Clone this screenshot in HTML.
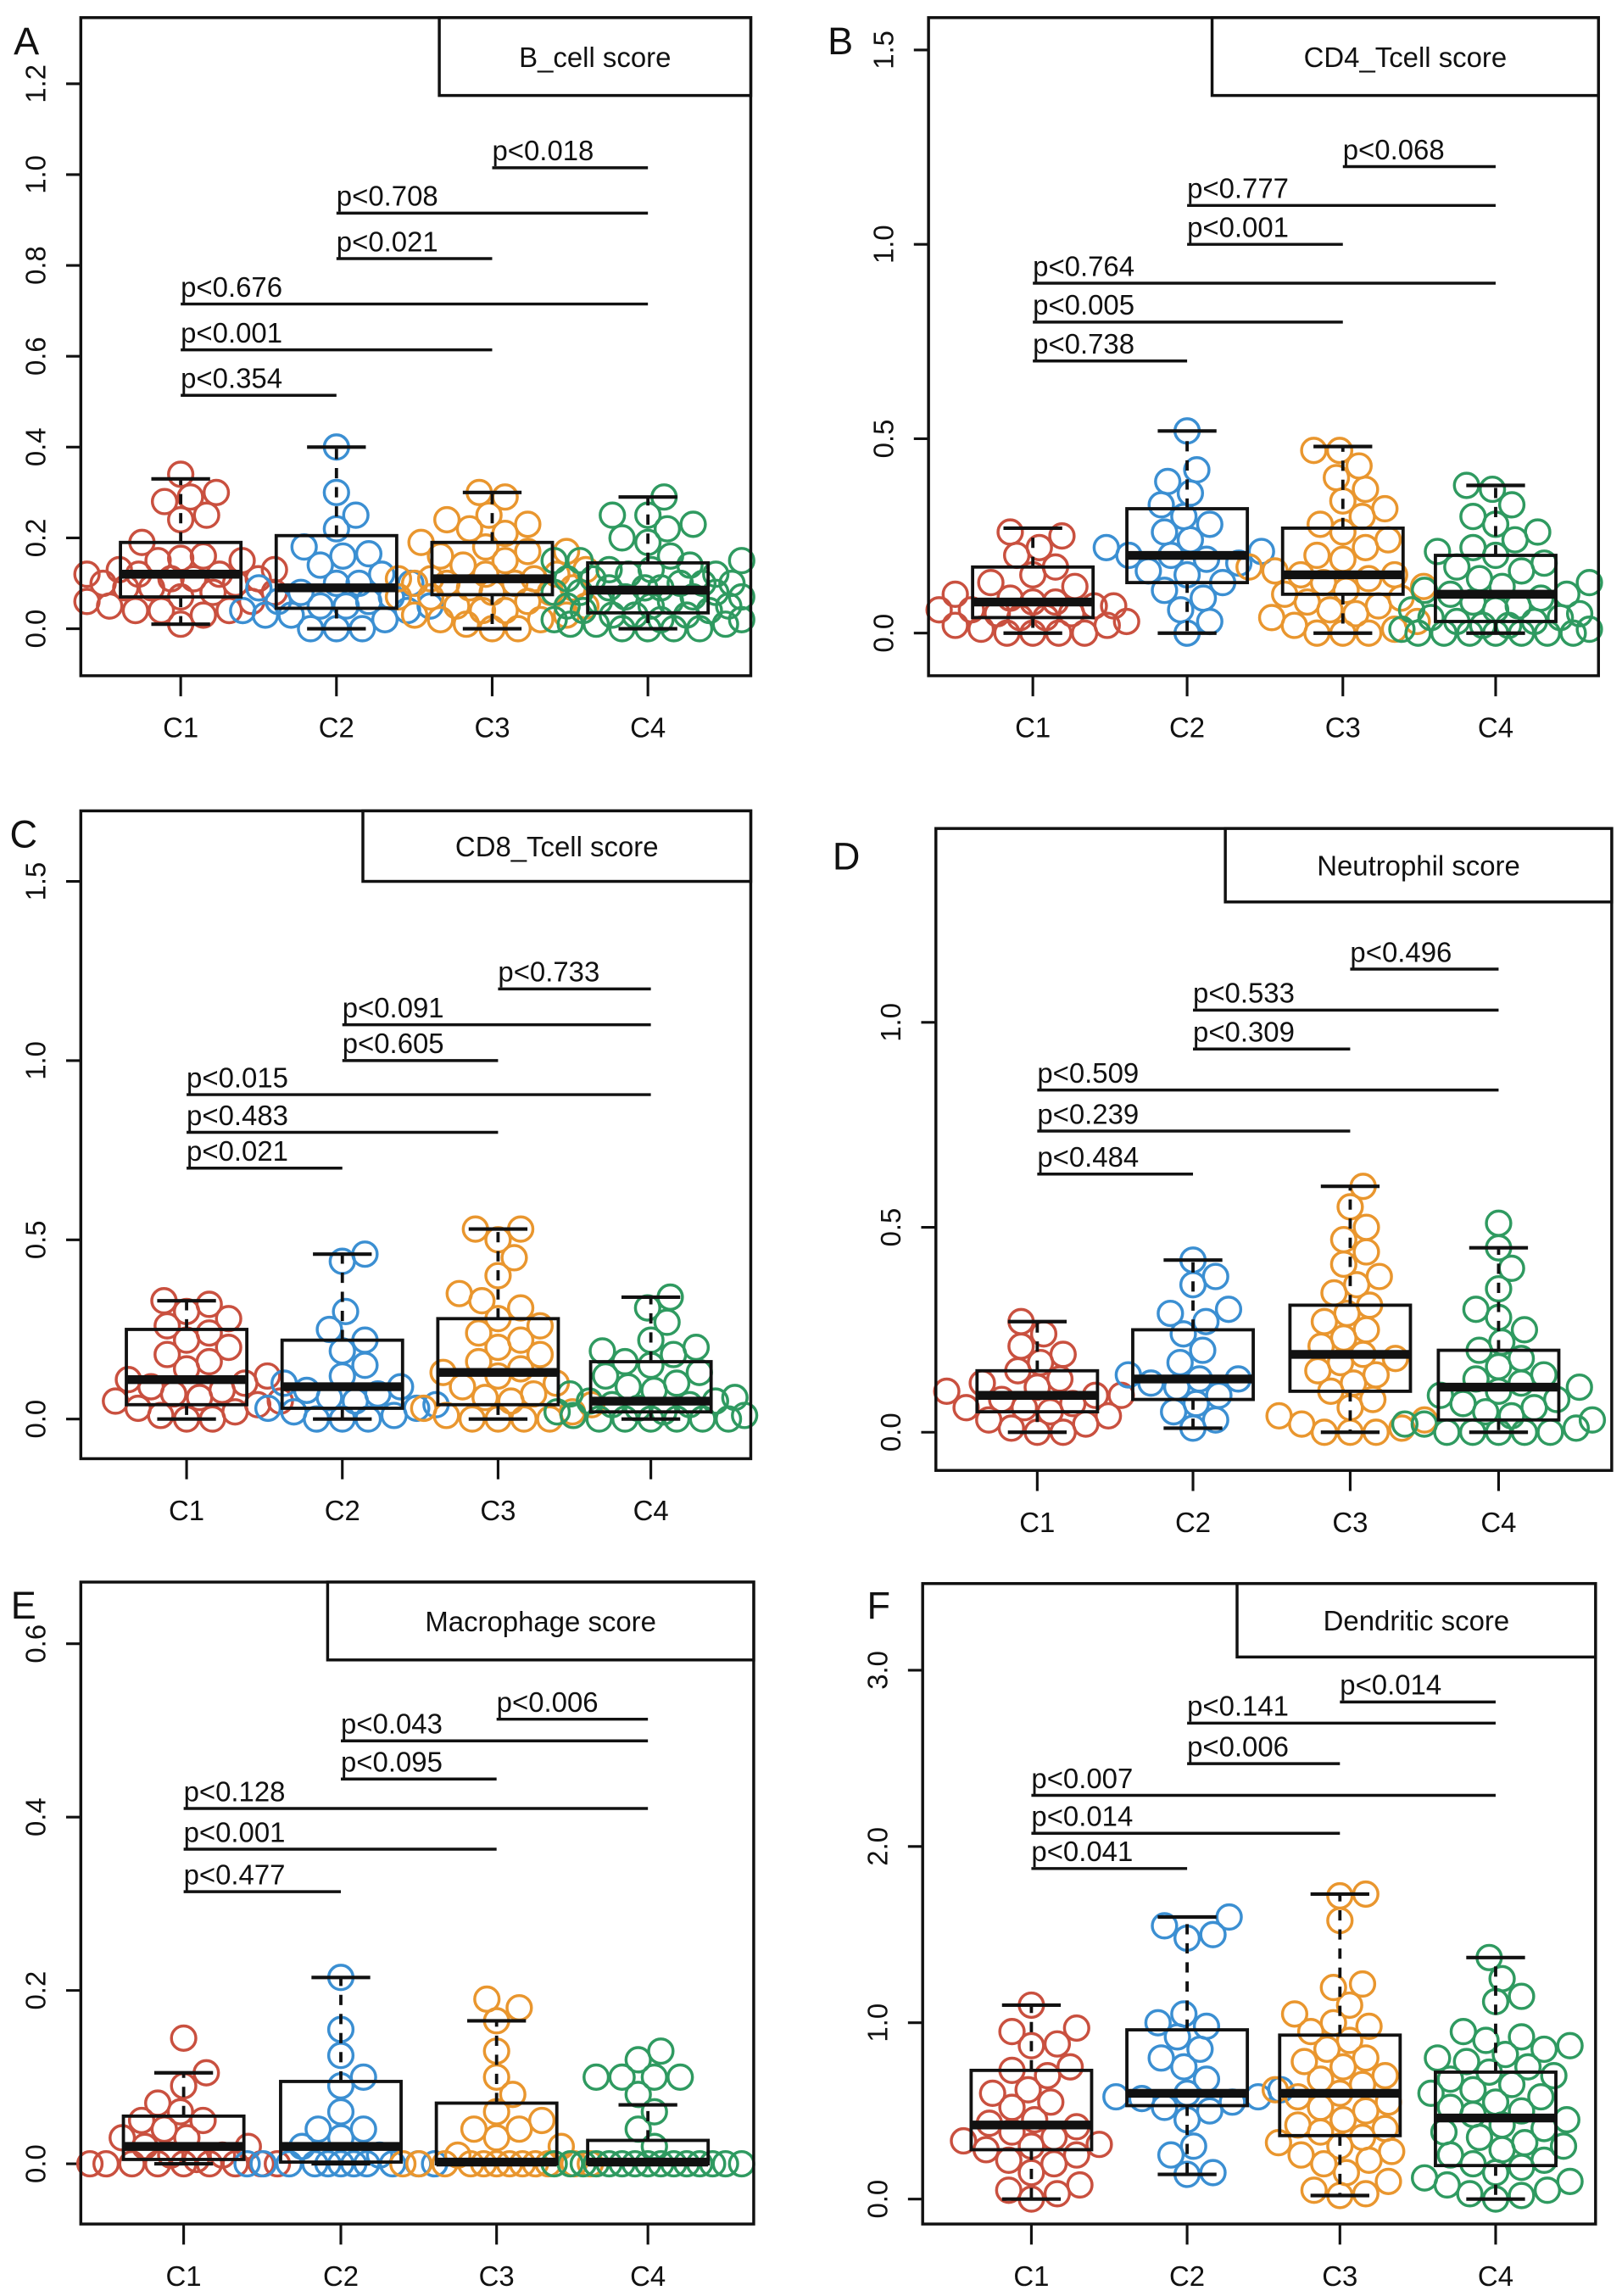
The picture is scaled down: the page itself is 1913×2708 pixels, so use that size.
<!DOCTYPE html>
<html><head><meta charset="utf-8"><style>
html,body{margin:0;padding:0;background:#fff}
svg{display:block}
text{font-family:"Liberation Sans",sans-serif;fill:#111}
</style></head><body>
<svg id="fig" width="1913" height="2708" viewBox="0 0 1104 1563" preserveAspectRatio="none" xmlns="http://www.w3.org/2000/svg"></svg>
<script>
const categories=["C1","C2","C3","C4"];
const colors=["#c9503f","#3b8fd2","#e9962e","#2f9a60"];
const pairs=[[0,1],[0,2],[0,3],[1,2],[1,3],[2,3]];

const aTicks=[0,0.2,0.4,0.6,0.8,1.0,1.2];
const aTickLabels=["0.0","0.2","0.4","0.6","0.8","1.0","1.2"];
const aBoxes=[[0.07,0.12,0.19,0.01,0.33],[0.045,0.09,0.205,0,0.40],[0.075,0.11,0.19,0,0.30],[0.035,0.085,0.145,0,0.29]];
const aBrackets=[0.514,0.614,0.715,0.815,0.915,1.015];
const aPLabels=["p<0.354","p<0.001","p<0.676","p<0.021","p<0.708","p<0.018"];
const aPoints=[
[0.34,0.30,0.29,0.28,0.25,0.24,0.19,0.16,0.155,0.15,0.15,0.13,0.13,0.12,0.12,0.12,0.11,0.11,0.11,0.10,0.10,0.09,0.09,0.08,0.08,0.07,0.06,0.06,0.05,0.04,0.04,0.04,0.03,0.01],
[0.40,0.30,0.25,0.22,0.18,0.165,0.16,0.14,0.12,0.10,0.10,0.10,0.09,0.08,0.07,0.06,0.06,0.05,0.05,0.05,0.04,0.04,0.03,0.03,0.02,0,0,0],
[0.30,0.29,0.25,0.24,0.23,0.22,0.21,0.19,0.18,0.17,0.17,0.16,0.15,0.14,0.13,0.12,0.12,0.11,0.11,0.11,0.10,0.10,0.10,0.09,0.09,0.08,0.08,0.07,0.07,0.06,0.05,0.05,0.04,0.04,0.03,0.03,0.02,0.02,0.01,0.00,0.00],
[0.29,0.25,0.25,0.23,0.22,0.20,0.19,0.16,0.15,0.15,0.15,0.14,0.13,0.13,0.12,0.12,0.11,0.11,0.10,0.10,0.10,0.09,0.09,0.09,0.08,0.08,0.08,0.07,0.07,0.07,0.06,0.06,0.05,0.05,0.05,0.04,0.04,0.03,0.03,0.03,0.02,0.02,0.02,0.01,0.01,0.01,0,0,0,0]];

const bTicks=[0,0.5,1.0,1.5];
const bTickLabels=["0.0","0.5","1.0","1.5"];
const bBoxes=[[0.04,0.08,0.17,0,0.27],[0.13,0.20,0.32,0,0.52],[0.10,0.15,0.27,0,0.48],[0.03,0.10,0.20,0,0.38]];
const bBrackets=[0.70,0.80,0.90,1.0,1.10,1.20];
const bPLabels=["p<0.738","p<0.005","p<0.764","p<0.001","p<0.777","p<0.068"];
const bPoints=[
[0.26,0.25,0.22,0.20,0.17,0.15,0.13,0.12,0.10,0.09,0.08,0.08,0.07,0.07,0.06,0.06,0.05,0.05,0.04,0.04,0.03,0.02,0.02,0.01,0,0,0,0],
[0.52,0.42,0.39,0.36,0.33,0.30,0.28,0.26,0.24,0.22,0.21,0.20,0.20,0.19,0.18,0.16,0.15,0.13,0.11,0.09,0.06,0.03,0],
[0.47,0.47,0.43,0.40,0.37,0.34,0.32,0.30,0.28,0.26,0.24,0.22,0.20,0.19,0.17,0.16,0.15,0.15,0.14,0.13,0.12,0.11,0.10,0.09,0.08,0.07,0.06,0.05,0.04,0.03,0.02,0.01,0,0,0],
[0.38,0.37,0.33,0.30,0.28,0.26,0.24,0.22,0.21,0.20,0.18,0.17,0.16,0.14,0.13,0.12,0.11,0.10,0.10,0.09,0.08,0.07,0.06,0.06,0.05,0.04,0.04,0.03,0.03,0.02,0.02,0.01,0.01,0,0,0,0,0,0,0]];

const cTicks=[0,0.5,1.0,1.5];
const cTickLabels=["0.0","0.5","1.0","1.5"];
const cBoxes=[[0.04,0.11,0.25,0,0.33],[0.03,0.09,0.22,0,0.46],[0.04,0.13,0.28,0,0.53],[0.02,0.05,0.16,0,0.34]];
const cBrackets=[0.70,0.80,0.905,1.0,1.10,1.20];
const cPLabels=["p<0.021","p<0.483","p<0.015","p<0.605","p<0.091","p<0.733"];
const cPoints=[
[0.33,0.32,0.30,0.28,0.26,0.24,0.22,0.20,0.18,0.16,0.14,0.12,0.11,0.10,0.09,0.08,0.07,0.06,0.05,0.05,0.04,0.03,0.02,0.01,0,0],
[0.46,0.44,0.30,0.25,0.22,0.19,0.15,0.12,0.10,0.09,0.08,0.07,0.06,0.05,0.04,0.03,0.03,0.02,0.01,0,0,0],
[0.53,0.53,0.50,0.45,0.40,0.35,0.33,0.31,0.28,0.26,0.24,0.22,0.20,0.18,0.16,0.14,0.13,0.12,0.10,0.09,0.07,0.06,0.05,0.04,0.03,0.02,0.01,0,0,0,0],
[0.34,0.31,0.27,0.22,0.20,0.19,0.18,0.16,0.15,0.13,0.12,0.10,0.09,0.08,0.07,0.06,0.05,0.05,0.04,0.04,0.03,0.02,0.02,0.01,0.01,0,0,0,0,0,0]];

const dTicks=[0,0.5,1.0];
const dTickLabels=["0.0","0.5","1.0"];
const dBoxes=[[0.05,0.09,0.15,0,0.27],[0.08,0.13,0.25,0.01,0.42],[0.10,0.19,0.31,0,0.60],[0.03,0.11,0.20,0,0.45]];
const dBrackets=[0.63,0.735,0.835,0.935,1.03,1.13];
const dPLabels=["p<0.484","p<0.239","p<0.509","p<0.309","p<0.533","p<0.496"];
const dPoints=[
[0.27,0.24,0.21,0.19,0.17,0.15,0.13,0.12,0.11,0.10,0.09,0.09,0.08,0.07,0.06,0.06,0.05,0.04,0.03,0.02,0.01,0,0],
[0.42,0.38,0.36,0.30,0.29,0.27,0.24,0.20,0.17,0.14,0.13,0.13,0.12,0.11,0.09,0.07,0.05,0.03,0.01],
[0.60,0.55,0.50,0.47,0.44,0.41,0.38,0.36,0.34,0.31,0.29,0.27,0.25,0.23,0.21,0.19,0.18,0.17,0.15,0.14,0.12,0.10,0.08,0.06,0.04,0.03,0.02,0.01,0,0,0],
[0.51,0.45,0.40,0.35,0.30,0.28,0.25,0.22,0.20,0.18,0.16,0.14,0.13,0.12,0.11,0.10,0.09,0.08,0.07,0.06,0.05,0.04,0.03,0.02,0.02,0.01,0,0,0,0,0]];

const eTicks=[0,0.2,0.4,0.6];
const eTickLabels=["0.0","0.2","0.4","0.6"];
const eBoxes=[[0.005,0.02,0.055,0,0.105],[0.002,0.02,0.095,0,0.215],[0,0.002,0.07,0,0.165],[0,0.002,0.027,0,0.068]];
const eBrackets=[0.314,0.363,0.41,0.444,0.488,0.513];
const ePLabels=["p<0.477","p<0.001","p<0.128","p<0.095","p<0.043","p<0.006"];
const ePoints=[
[0.145,0.105,0.09,0.07,0.06,0.05,0.05,0.04,0.03,0.03,0.02,0.02,0.01,0.01,0.005,0,0,0,0,0,0,0,0,0],
[0.215,0.155,0.125,0.10,0.09,0.06,0.04,0.04,0.03,0.02,0.01,0,0,0,0,0,0,0,0,0,0,0],
[0.19,0.18,0.165,0.13,0.10,0.08,0.06,0.05,0.04,0.04,0.03,0.02,0.01,0,0,0,0,0,0,0,0,0,0,0,0],
[0.13,0.12,0.10,0.10,0.10,0.10,0.08,0.06,0.04,0.02,0,0,0,0,0,0,0,0,0,0,0,0,0,0,0]];

const fTicks=[0,1.0,2.0,3.0];
const fTickLabels=["0.0","1.0","2.0","3.0"];
const fBoxes=[[0.28,0.42,0.73,0,1.10],[0.53,0.60,0.96,0.14,1.60],[0.36,0.60,0.93,0.02,1.73],[0.19,0.46,0.72,0,1.37]];
const fBrackets=[1.875,2.075,2.29,2.47,2.70,2.82];
const fPLabels=["p<0.041","p<0.014","p<0.007","p<0.006","p<0.141","p<0.014"];
const fPoints=[
[1.10,0.97,0.95,0.88,0.87,0.75,0.73,0.70,0.62,0.60,0.55,0.52,0.45,0.43,0.41,0.38,0.35,0.33,0.31,0.30,0.28,0.25,0.22,0.20,0.15,0.08,0.05,0.03,0],
[1.60,1.55,1.50,1.48,1.05,1.00,0.98,0.92,0.85,0.80,0.75,0.68,0.62,0.60,0.58,0.58,0.57,0.55,0.52,0.50,0.45,0.30,0.25,0.15,0.14],
[1.73,1.72,1.58,1.22,1.20,1.10,1.05,1.00,0.98,0.95,0.90,0.85,0.80,0.78,0.75,0.70,0.68,0.65,0.62,0.60,0.58,0.55,0.52,0.50,0.45,0.42,0.40,0.38,0.35,0.32,0.30,0.27,0.25,0.22,0.20,0.15,0.10,0.05,0.03,0.02],
[1.37,1.25,1.15,1.12,0.95,0.92,0.90,0.87,0.85,0.82,0.80,0.78,0.75,0.72,0.70,0.68,0.65,0.62,0.60,0.58,0.55,0.52,0.50,0.48,0.45,0.42,0.40,0.38,0.35,0.32,0.30,0.28,0.25,0.22,0.20,0.18,0.15,0.12,0.10,0.08,0.05,0.03,0.02,0]];

const panels=[
 {id:"a",letter:"A",title:"B_cell score",x0:55,x1:511,y0:12,y1:460,zeroY:428,topV:1.2,topY:57,cx:[123,229,335,441],lx:299,ly1:65,lab:[18,30],ticks:aTicks,tl:aTickLabels,boxes:aBoxes,br:aBrackets,pl:aPLabels,pts:aPoints},
 {id:"b",letter:"B",title:"CD4_Tcell score",x0:632,x1:1088,y0:12,y1:460,zeroY:431,topV:1.5,topY:34,cx:[703,808,914,1018],lx:825,ly1:65,lab:[572,30],ticks:bTicks,tl:bTickLabels,boxes:bBoxes,br:bBrackets,pl:bPLabels,pts:bPoints},
 {id:"c",letter:"C",title:"CD8_Tcell score",x0:55,x1:511,y0:552,y1:993,zeroY:966,topV:1.5,topY:600,cx:[127,233,339,443],lx:247,ly1:600,lab:[16,570],ticks:cTicks,tl:cTickLabels,boxes:cBoxes,br:cBrackets,pl:cPLabels,pts:cPoints},
 {id:"d",letter:"D",title:"Neutrophil score",x0:637,x1:1097,y0:564,y1:1001,zeroY:975,topV:1.0,topY:696,cx:[706,812,919,1020],lx:834,ly1:614,lab:[576,585],ticks:dTicks,tl:dTickLabels,boxes:dBoxes,br:dBrackets,pl:dPLabels,pts:dPoints},
 {id:"e",letter:"E",title:"Macrophage score",x0:55,x1:513,y0:1077,y1:1514,zeroY:1473,topV:0.6,topY:1119,cx:[125,232,338,441],lx:223,ly1:1130,lab:[16,1095],ticks:eTicks,tl:eTickLabels,boxes:eBoxes,br:eBrackets,pl:ePLabels,pts:ePoints},
 {id:"f",letter:"F",title:"Dendritic  score",x0:628,x1:1086,y0:1078,y1:1514,zeroY:1497,topV:3.0,topY:1137,cx:[702,808,912,1018],lx:842,ly1:1128,lab:[598,1095],ticks:fTicks,tl:fTickLabels,boxes:fBoxes,br:fBrackets,pl:fPLabels,pts:fPoints}
];
const NS="http://www.w3.org/2000/svg";
const svg=document.getElementById("fig");
function mk(tag,attrs,parent,txt){const e=document.createElementNS(NS,tag);for(const k in attrs)e.setAttribute(k,attrs[k]);if(txt!==undefined)e.textContent=txt;parent.appendChild(e);return e;}
const R=8.3, CAP=64;
panels.forEach(p=>{
 const g=mk("g",{},svg);
 
 
 const Y=v=>p.zeroY-(v/p.topV)*(p.zeroY-p.topY);
 const lt=mk("text",{x:p.lab[0],y:p.lab[1],"font-size":26,"text-anchor":"middle","dominant-baseline":"middle"},g,p.letter);
 
 
 const ya=mk("g",{},g);
 
 
 p.ticks.forEach((t,i)=>{
  const y=Y(t);
  mk("line",{x1:p.x0-10,x2:p.x0,y1:y,y2:y,stroke:"#111","stroke-width":1.8},ya);
  const tx=mk("text",{x:0,y:0,"font-size":19,"text-anchor":"middle",transform:`translate(${p.x0-24},${y}) rotate(-90)`},ya,p.tl[i]);
  
  
 });
 const xa=mk("g",{},g);
 
 
 categories.forEach((c,i)=>{
  mk("line",{x1:p.cx[i],x2:p.cx[i],y1:p.y1,y2:p.y1+14,stroke:"#111","stroke-width":1.8},xa);
  const tx=mk("text",{x:p.cx[i],y:p.y1+42,"font-size":19,"text-anchor":"middle"},xa,c);
  
  
 });
 categories.forEach((c,i)=>{
  const pg=mk("g",{},g);
  
  
  const vals=p.pts[i].slice().sort((a,b)=>a-b);
  const placed=[];const D=2*R*0.97;
  vals.forEach(v=>{
   const y=Y(v);let best=null,bestScore=-1,bestDx=0;
   for(let k=0;k*2.2<=CAP;k++){
    const cands=k===0?[0]:[k*2.2,-k*2.2];
    for(const dx of cands){
     let md=Infinity;placed.forEach(q=>{md=Math.min(md,Math.hypot(q[0]-dx,q[1]-y));});
     if(md>=D){best=dx;break;}
     if(md>bestScore){bestScore=md;bestDx=dx;}
    }
    if(best!==null)break;
   }
   if(best===null)best=bestDx;
   placed.push([best,y]);
   const ci=mk("circle",{cx:p.cx[i]+best,cy:y,r:R,fill:"none",stroke:colors[i],"stroke-width":2},pg);
   
   
  });
 });
 categories.forEach((c,i)=>{
  const b=p.boxes[i];const x=p.cx[i];const hw=41,cw=20;
  const bg=mk("g",{stroke:"#111",fill:"none"},g);
  
  
  mk("line",{x1:x,x2:x,y1:Y(b[2]),y2:Y(b[4]),"stroke-width":2.2,"stroke-dasharray":"7,6"},bg);
  mk("line",{x1:x,x2:x,y1:Y(b[0]),y2:Y(b[3]),"stroke-width":2.2,"stroke-dasharray":"7,6"},bg);
  mk("line",{x1:x-cw,x2:x+cw,y1:Y(b[4]),y2:Y(b[4]),"stroke-width":2.4},bg);
  mk("line",{x1:x-cw,x2:x+cw,y1:Y(b[3]),y2:Y(b[3]),"stroke-width":2.4},bg);
  mk("rect",{x:x-hw,y:Y(b[2]),width:2*hw,height:Y(b[0])-Y(b[2]),"stroke-width":2.2},bg);
  mk("line",{x1:x-hw,x2:x+hw,y1:Y(b[1]),y2:Y(b[1]),"stroke-width":6},bg);
 });
 pairs.forEach((pr,k)=>{
  const y=Y(p.br[k]);
  const bl=mk("line",{x1:p.cx[pr[0]],x2:p.cx[pr[1]],y1:y,y2:y,stroke:"#111","stroke-width":2},g);
  
  
  const t=mk("text",{x:p.cx[pr[0]],y:y-5,"font-size":19},g,p.pl[k]);
  
  
 });
 mk("rect",{x:p.x0,y:p.y0,width:p.x1-p.x0,height:p.y1-p.y0,fill:"none",stroke:"#111","stroke-width":2},g);
 const lg=mk("g",{},g);
 
 
 mk("rect",{x:p.lx,y:p.y0,width:p.x1-p.lx,height:p.ly1-p.y0,fill:"#fff",stroke:"#111","stroke-width":2},lg);
 const lt2=mk("text",{x:(p.lx+p.x1)/2,y:(p.y0+p.ly1)/2+7,"font-size":19,"text-anchor":"middle","xml:space":"preserve"},lg,p.title);
 
 
});
</script>
</body></html>
